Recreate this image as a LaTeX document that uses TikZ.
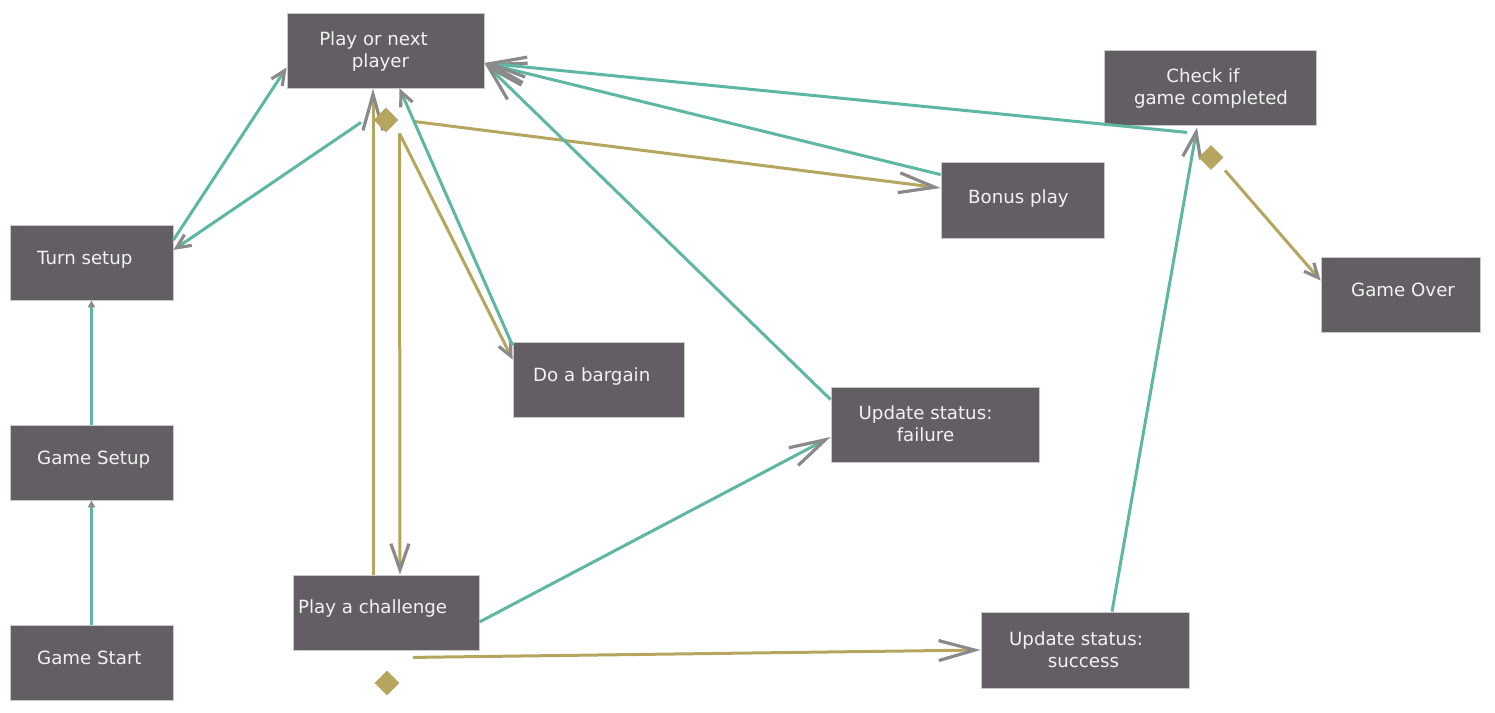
\documentclass[tikz,border=0pt]{standalone}
\usepackage{fontspec}
\setmainfont{DejaVu Sans}
\usetikzlibrary{arrows.meta,calc,shapes.geometric}
\definecolor{boxfill}{HTML}{625E63}
\definecolor{boxline}{HTML}{C9C9C9}
\definecolor{txtc}{HTML}{F2F2F2}
\definecolor{tealc}{HTML}{5DB7A3}
\definecolor{goldc}{HTML}{B6A55F}
\definecolor{arrg}{HTML}{8A8A8A}
\begin{document}
\begin{tikzpicture}[x=1pt,y=-1pt,
  box/.style={draw=boxline,line width=0.8pt,fill=boxfill,rectangle,inner sep=0pt,minimum height=75pt},
  lbl/.style={text=txtc,font=\fontsize{18.2}{22}\selectfont,inner sep=0pt},
  dmd/.style={diamond,aspect=1,fill=goldc,inner sep=0pt,minimum width=25pt,minimum height=25pt},
  tl/.style={tealc,line width=3pt},
  gl/.style={goldc,line width=3pt},
  barbL/.style={-{Straight Barb[length=36pt,width=20pt,color=arrg,line width=3.2pt]}},
  barbM/.style={-{Straight Barb[length=26pt,width=18pt,color=arrg,line width=3.2pt]}},
  barbS/.style={-{Straight Barb[length=14pt,width=13pt,color=arrg,line width=3.2pt]}},
  tri/.style={-{Triangle[length=7pt,width=7pt,color=arrg]}}]
\useasboundingbox (0,0) rectangle (1495,712);
\fill[white] (0,0) rectangle (1495,712);

% boxes
\node[box,minimum width=197pt] (play) at (385.5,50.5) {};
\node[box,minimum width=212pt] (check) at (1210,87.5) {};
\node[box,minimum width=163pt,minimum height=76pt] (bonus) at (1022.5,200) {};
\node[box,minimum width=163pt] (turn) at (91.5,262.5) {};
\node[box,minimum width=159pt] (over) at (1400.5,294.5) {};
\node[box,minimum width=171pt] (barg) at (598.5,379.5) {};
\node[box,minimum width=208pt] (fail) at (935,424.5) {};
\node[box,minimum width=163pt] (gsetup) at (91.5,462.5) {};
\node[box,minimum width=186pt] (chal) at (386,612.5) {};
\node[box,minimum width=208pt,minimum height=76pt] (succ) at (1085,650) {};
\node[box,minimum width=163pt] (gstart) at (91.5,662.5) {};

% labels
\node[lbl,align=center] (tplay) at (380.5,51) {Play or next\rule{14pt}{0pt}\\player};
\node[lbl,align=center] (tcheck) at (1211,88.5) {Check if\rule{16pt}{0pt}\\game completed};
\node[lbl,align=center] (tfail) at (925.5,424) {Update status:\\failure};
\node[lbl,align=center] (tsucc) at (1083.5,650) {Update status:\rule{15pt}{0pt}\\success};
\node[lbl,anchor=base west] (tbonus) at (968,203) {Bonus play};
\node[lbl,anchor=base west] (tturn) at (37,264) {Turn setup};
\node[lbl,anchor=base west] (tover) at (1351,296) {Game Over};
\node[lbl,anchor=base west] (tbarg) at (533,381) {Do a bargain};
\node[lbl,anchor=base west] (tgsetup) at (37,464) {Game Setup};
\node[lbl,anchor=base west] (tchal) at (298,613) {Play a challenge};
\node[lbl,anchor=base west] (tgstart) at (37,664) {Game Start};

% small arrows
\draw[tl,tri] (gstart.north) -- (gsetup.south);
\draw[tl,tri] (gsetup.north) -- (turn.south);

% gold connectors
\draw[gl,barbL] ($(chal.north)+(-13,0)$) -- ($(play.south)+(-12.5,0)$);
\draw[gl,barbM] ($(play.south)+(14,45)$) -- ($(chal.north)+(14,0)$);
\draw[gl,barbS] ($(play.south)+(14,45)$) -- ($(barg.west)+(0,-20)$);
\draw[gl,barbL] ($(play.south)+(28,33)$) -- ($(bonus.west)+(0,-12)$);
\draw[gl,barbL] ($(chal.south)+(27,7)$) -- (succ.west);
\draw[gl,barbS] ($(check.south)+(15,45)$) -- ($(over.west)+(0,-14)$);

% teal connectors
\draw[tl,barbS] ($(turn.east)+(0,-22.5)$) -- ($(play.west)+(0,17)$);
\draw[tl,barbS] ($(play.south)+(-24.5,34)$) -- ($(turn.east)+(0,-12.5)$);
\draw[tl,barbS] ($(barg.north west)+(0,4)$) -- ($(play.south)+(14,0)$);
\draw[tl,barbL] ($(bonus.north west)+(0,13)$) -- ($(play.east)+(0,12.5)$);
\draw[tl,barbL] ($(fail.north west)+(0,13)$) -- ($(play.east)+(0,12.5)$);
\draw[tl,barbL] ($(check.south)+(-23,7)$) -- ($(play.east)+(0,12.5)$);
\draw[tl,barbL] ($(chal.east)+(0,9.5)$) -- ($(fail.west)+(0,12.5)$);
\draw[tl,barbM] ($(succ.north)+(27,0)$) -- ($(check.south)+(-13,2)$);

% diamonds (on top)
\node[dmd] (d1) at (386,120) {};
\node[dmd] (d2) at (387,683) {};
\node[dmd] (d3) at (1211,157.5) {};
\end{tikzpicture}
\end{document}
